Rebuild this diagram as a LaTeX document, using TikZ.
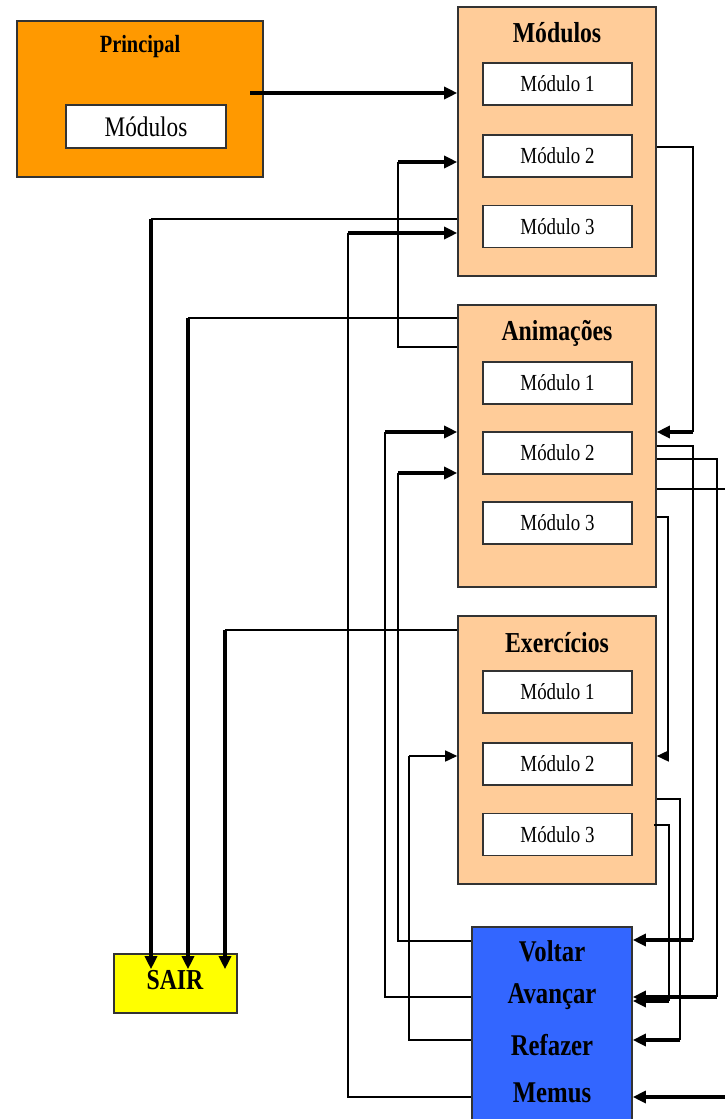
\documentclass[tikz,border=0pt]{standalone}
\usepackage{graphicx}
\usepackage{fontspec}
\setmainfont{Liberation Serif}
\usetikzlibrary{arrows.meta,calc}
\definecolor{orangeP}{HTML}{FF9900}
\definecolor{peach}{HTML}{FFCC99}
\definecolor{blueM}{HTML}{3366FF}
\definecolor{yellowS}{HTML}{FFFF00}
\definecolor{edgeC}{HTML}{333333}
\newcommand{\tallt}[1]{\scalebox{0.97}[1.18]{#1}}
\begin{document}
\begin{tikzpicture}[x=1pt,y=-1pt,
  box/.style={draw=edgeC,line width=1.6pt,rectangle,inner sep=0pt},
  group/.style={box,fill=peach,minimum width=198pt},
  mod/.style={box,fill=white,minimum width=149pt,minimum height=42pt,font=\fontsize{19.5}{20}\selectfont},
  ttl/.style={font=\bfseries\fontsize{24.5}{26}\selectfont},
  mlab/.style={font=\bfseries\fontsize{25.5}{27}\selectfont},
  ln/.style={draw=black,line width=1.2pt},
  arr/.style={draw=black,line width=3.2pt,-{Triangle[length=13pt,width=12pt]}},
  arrthin/.style={draw=black,line width=1.5pt,-{Triangle[length=12pt,width=11pt]}},
]
\useasboundingbox (0,0) rectangle (725,1119);
\fill[white] (0,0) rectangle (725,1119);

% Principal
\node[box,fill=orangeP,minimum width=246pt,minimum height=156pt] (prin) at (140,99) {};
\node[font=\bfseries\fontsize{21}{23}\selectfont] (prinT) at (140,47) {\tallt{Principal}};
\node[box,fill=white,minimum width=160pt,minimum height=43pt,font=\fontsize{24}{26}\selectfont] (prinmod) at (146,126.5) {\tallt{Módulos}};

% Modulos group
\node[group,minimum height=269pt] (mods) at (557,141.5) {};
\node[ttl] (modsT) at (557,33) {\tallt{Módulos}};
\node[mod] (mods1) at (557.5,84) {\tallt{Módulo 1}};
\node[mod] (mods2) at (557.5,156) {\tallt{Módulo 2}};
\node[mod] (mods3) at (557.5,226.5) {\tallt{Módulo 3}};

% Animacoes group
\node[group,minimum height=282pt] (anim) at (557,446) {};
\node[ttl] (animT) at (557,333) {\tallt{Animações}};
\node[mod] (anim1) at (557.5,383) {\tallt{Módulo 1}};
\node[mod] (anim2) at (557.5,453) {\tallt{Módulo 2}};
\node[mod] (anim3) at (557.5,523) {\tallt{Módulo 3}};

% Exercicios group
\node[group,minimum height=268pt] (exer) at (557,750) {};
\node[ttl] (exerT) at (557,643) {\tallt{Exercícios}};
\node[mod] (exer1) at (557.5,692) {\tallt{Módulo 1}};
\node[mod] (exer2) at (557.5,764) {\tallt{Módulo 2}};
\node[mod] (exer3) at (557.5,834.5) {\tallt{Módulo 3}};

% Menu box
\node[box,fill=blueM,minimum width=160pt,minimum height=200pt] (menu) at (552,1027) {};
\node[mlab] (mVoltar) at (552,951) {\tallt{Voltar}};
\node[mlab] (mAvancar) at (552,997) {\tallt{Avançar}};
\node[mlab] (mRefazer) at (552,1045) {\tallt{Refazer}};
\node[mlab] (mMemus) at (552,1093) {\tallt{Memus}};

% SAIR
\node[box,fill=yellowS,minimum width=123pt,minimum height=59pt] (sair) at (175.5,983.5) {};
\node[ttl] (sairT) at (175,980) {\tallt{SAIR}};

% A: Principal -> Modulos
\coordinate (pA) at (250,93);
\draw[arr] (pA) -- (pA -| mods.west);

% B, C, D: to SAIR
\coordinate (b2) at (151,219);
\draw[ln] (mods.west |- b2) -- (b2);
\draw[arr] (b2) -- ($(b2 |- sair.north)+(0,16)$);
\coordinate (c2) at (188,318);
\draw[ln] (anim.west |- c2) -- (c2);
\draw[arr] (c2) -- ($(c2 |- sair.north)+(0,16)$);
\coordinate (d2) at (225,630);
\draw[ln] (exer.west |- d2) -- (d2);
\draw[arr] (d2) -- ($(d2 |- sair.north)+(0,16)$);

% E: Animacoes -> Modulos (left)
\coordinate (e1) at (398,347);
\coordinate (e2) at (398,162);
\draw[ln] (anim.west |- e1) -- (e1) -- (e2);
\draw[arr] (e2) -- (e2 -| mods.west);

% F: Menu -> Modulos
\coordinate (f1) at (348,1097);
\coordinate (f2) at (348,233);
\draw[ln] (menu.west |- f1) -- (f1) -- (f2);
\draw[arr] (f2) -- (f2 -| mods.west);

% G: Menu -> Animacoes
\coordinate (g1) at (385,997);
\coordinate (g2) at (385,432);
\draw[ln] (menu.west |- g1) -- (g1) -- (g2);
\draw[arr] (g2) -- (g2 -| anim.west);

% H: Menu -> Animacoes
\coordinate (h1) at (398,941);
\coordinate (h2) at (398,473);
\draw[ln] (menu.west |- h1) -- (h1) -- (h2);
\draw[arr] (h2) -- (h2 -| anim.west);

% I: Menu -> Exercicios
\coordinate (i1) at (409,1040);
\coordinate (i2) at (409,756);
\draw[ln] (menu.west |- i1) -- (i1) -- (i2);
\draw[arrthin] (i2) -- (i2 -| exer.west);

% J: Modulos -> Animacoes (right)
\coordinate (j1) at (693,147);
\coordinate (j2) at (693,432);
\draw[ln] (mods.east |- j1) -- (j1) -- (j2);
\draw[arr] (j2) -- (j2 -| anim.east);

% K: Animacoes -> Menu (Voltar)
\coordinate (k1) at (693,446);
\coordinate (k2) at (693,940);
\draw[ln] (anim.east |- k1) -- (k1) -- (k2);
\draw[arr] (k2) -- (k2 -| menu.east);

% L: Animacoes -> Menu (Avancar)
\coordinate (l1) at (717,459);
\coordinate (l2) at (717,997);
\draw[ln] (anim.east |- l1) -- (l1) -- (l2);
\draw[arr] (l2) -- (l2 -| menu.east);

% M: Animacoes -> Menu (Memus), via outside right
\coordinate (m1) at (740,489);
\coordinate (m2) at (740,1097);
\draw[ln] (anim.east |- m1) -- (m1) -- (m2);
\draw[arr] (m2) -- (m2 -| menu.east);

% N: Animacoes -> Exercicios (right)
\coordinate (n1) at (668,517);
\coordinate (n2) at (668,756);
\draw[ln] (anim.east |- n1) -- (n1) -- (n2);
\draw[arrthin] (n2) -- (n2 -| exer.east);

% O: Exercicios -> Menu (Refazer)
\coordinate (o1) at (680,799);
\coordinate (o2) at (680,1040);
\draw[ln] (exer.east |- o1) -- (o1) -- (o2);
\draw[arr] (o2) -- (o2 -| menu.east);

% P: Exercicios -> Menu (Avancar)
\coordinate (p1) at (669,825);
\coordinate (p2) at (669,1001);
\draw[ln] ($(exer.east |- p1)+(-3,0)$) -- (p1) -- (p2);
\draw[arr] (p2) -- (p2 -| menu.east);
\end{tikzpicture}
\end{document}
